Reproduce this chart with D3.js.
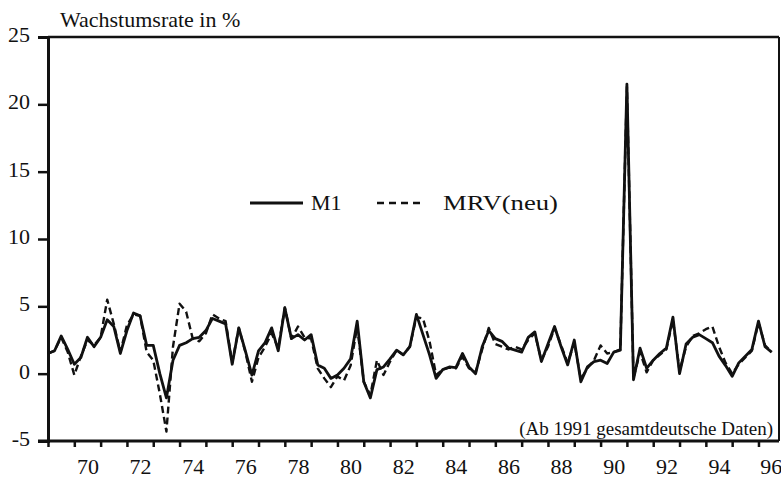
<!DOCTYPE html>
<html>
<head>
<meta charset="utf-8">
<script src="https://cdn.jsdelivr.net/npm/d3@7/dist/d3.min.js"></script>
<style>
  html, body { margin: 0; padding: 0; background: #fff; }
  svg { display: block; }
  text { font-family: "Liberation Serif", "Times New Roman", serif; fill: #111; }
</style>
</head>
<body>
<svg id="chart" width="781" height="478"></svg>
<script>
// Quarterly growth rates in %, starting 1969 Q1
const startYear = 1969;
const m1 = [
  1.5, 1.7, 2.8, 1.8,   0.7, 1.2, 2.7, 2.0,   2.7, 4.0, 3.5, 1.5,
  3.2, 4.5, 4.3, 2.1,   2.1, 0.0, -1.8, 1.0,  2.1, 2.3, 2.6, 2.7,
  3.2, 4.1, 3.9, 3.7,   0.7, 3.4, 1.7, -0.1,  1.7, 2.3, 3.4, 1.7,
  4.9, 2.6, 2.9, 2.5,   2.9, 0.65, 0.4, -0.35, -0.1, 0.4, 1.1, 3.9,
  -0.6, -1.8, 0.3, 0.5, 1.1, 1.75, 1.4, 2.0,  4.4, 2.9, 1.4, -0.35,
  0.3, 0.5, 0.45, 1.5,  0.5, 0.0, 2.0, 3.2,   2.6, 2.4, 1.9, 1.75,
  1.6, 2.7, 3.1, 0.9,   2.2, 3.5, 2.0, 0.65,  2.5, -0.6, 0.5, 0.9,
  1.0, 0.75, 1.6, 1.75, 21.5, -0.45, 1.9, 0.4, 1.0, 1.5, 1.9, 4.2,
  0.0, 2.2, 2.7, 2.9,   2.6, 2.3, 1.3, 0.6,   -0.2, 0.8, 1.3, 1.8,
  3.9, 2.0, 1.6
];
const mrv = [
  1.5, 1.7, 2.7, 1.6,   -0.1, 1.3, 2.5, 2.1,  2.7, 5.5, 3.7, 1.6,
  3.6, 4.4, 4.3, 1.6,   1.0, -1.5, -4.3, 2.0, 5.2, 4.6, 2.6, 2.4,
  3.0, 4.4, 4.1, 3.9,   0.8, 3.4, 1.6, -0.6,  1.2, 2.0, 3.0, 1.9,
  4.9, 2.6, 3.5, 2.7,   2.6, 0.4, -0.35, -1.0, -0.2, -0.5, 0.6, 3.5,
  -0.6, -1.6, 1.0, -0.1, 0.9, 1.75, 1.4, 2.0, 4.2, 4.1, 2.4, -0.1,
  0.3, 0.45, 0.4, 1.25, 0.4, 0.1, 1.8, 3.4,   2.2, 2.0, 1.8, 2.0,
  1.8, 2.5, 3.0, 1.0,   2.0, 3.4, 2.1, 0.8,   2.3, -0.4, 0.4, 1.0,
  2.1, 1.5, 1.6, 1.8,   21.3, -0.3, 1.6, 0.1, 1.0, 1.4, 1.8, 4.0,
  0.2, 2.0, 2.8, 3.0,   3.3, 3.5, 2.0, 0.8,   0.0, 0.7, 1.2, 1.7,
  3.8, 2.1, 1.6
];
const yTicks = [-5, 0, 5, 10, 15, 20, 25];
const xLabels = ["70","72","74","76","78","80","82","84","86","88","90","92","94","96"];
const yearTicks = d3.range(1969, 1997);
const titleText = "Wachstumsrate in %";
const noteText = "(Ab 1991 gesamtdeutsche Daten)";
const seriesNames = ["M1", "MRV(neu)"];

const svg = d3.select("#chart");
const L = 48, R = 779, T = 37, B = 441;
const x = d3.scaleLinear().domain([1969, 1996.78]).range([L, R]);
const y = d3.scaleLinear().domain([-5, 25]).range([B, T]);
const serif = '"Liberation Serif", "Times New Roman", serif';

// frame top and right
svg.append("line").attr("x1", L).attr("x2", R).attr("y1", T).attr("y2", T)
  .attr("stroke", "#111").attr("stroke-width", 2.5);
svg.append("line").attr("x1", R).attr("x2", R).attr("y1", T).attr("y2", B)
  .attr("stroke", "#111").attr("stroke-width", 2);

// y axis
const yAxis = svg.append("g").attr("transform", `translate(${L},0)`)
  .call(d3.axisLeft(y).tickValues(yTicks).tickSize(10).tickPadding(8).tickFormat(d => String(d)));
yAxis.attr("font-family", serif);
yAxis.select(".domain").attr("stroke", "#111").attr("stroke-width", 3);
yAxis.selectAll(".tick line").attr("stroke", "#111").attr("stroke-width", 2.5);
yAxis.selectAll(".tick text").style("font-size", "22px").attr("dy", "0.2em")
  .style("font-family", serif).attr("fill", "#111");

// x axis ticks (year boundaries)
const xAxis = svg.append("g").attr("transform", `translate(0,${B})`)
  .call(d3.axisBottom(x).tickValues(yearTicks).tickSize(6).tickFormat(""));
xAxis.select(".domain").attr("stroke", "#111").attr("stroke-width", 3)
  .attr("d", `M${L - 10},0H${R}`);
xAxis.selectAll(".tick line").attr("stroke", "#111").attr("stroke-width", 2.5);

// x labels centred in the year
const xLab = svg.append("g").attr("transform", `translate(0,${B})`)
  .call(d3.axisBottom(x).tickValues(xLabels.map(s => 1900 + +s + 0.5))
    .tickSize(0).tickPadding(17).tickFormat(d => String(Math.floor(d) - 1900)));
xLab.attr("font-family", serif);
xLab.select(".domain").remove();
xLab.selectAll(".tick text").style("font-size", "22px")
  .style("font-family", serif).attr("fill", "#111");
// keep the last label inside the picture
xLab.selectAll(".tick text").filter(d => Math.floor(d) === 1996)
  .attr("text-anchor", "end").attr("x", 10);

// lines
const pts = arr => arr.map((v, i) => [startYear + i / 4, v]);
const line = d3.line().x(d => x(d[0])).y(d => y(d[1]));
svg.append("path").datum(pts(mrv)).attr("d", line).attr("fill", "none")
  .attr("stroke", "#111").attr("stroke-width", 2.4).attr("stroke-dasharray", "7,4")
  .attr("stroke-linejoin", "round");
svg.append("path").datum(pts(m1)).attr("d", line).attr("fill", "none")
  .attr("stroke", "#111").attr("stroke-width", 2.8).attr("stroke-linejoin", "round");

// title
svg.append("text").attr("x", 60).attr("y", 27).style("font-size", "22px").text(titleText);

// legend
svg.append("line").attr("x1", 250).attr("x2", 303).attr("y1", 203).attr("y2", 203)
  .attr("stroke", "#111").attr("stroke-width", 2.8);
svg.append("text").attr("x", 311).attr("y", 210).style("font-size", "22px").text(seriesNames[0]);
svg.append("line").attr("x1", 377).attr("x2", 421).attr("y1", 203).attr("y2", 203)
  .attr("stroke", "#111").attr("stroke-width", 2.6).attr("stroke-dasharray", "7,5");
svg.append("text").attr("x", 443).attr("y", 210).style("font-size", "22px")
  .attr("textLength", 115).attr("lengthAdjust", "spacingAndGlyphs").text(seriesNames[1]);

// note
svg.append("text").attr("x", 773).attr("y", 435).attr("text-anchor", "end")
  .style("font-size", "19px").text(noteText);
</script>
</body>
</html>
